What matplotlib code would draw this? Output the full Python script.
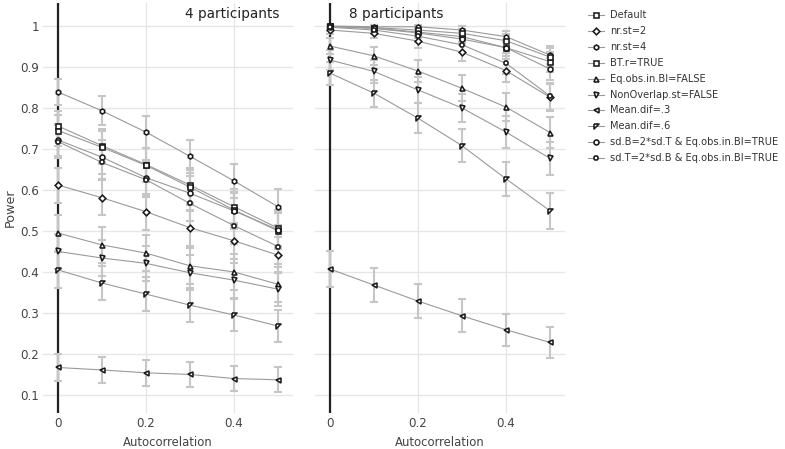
import numpy as np
import matplotlib.pyplot as plt
from matplotlib.lines import Line2D

plt.rcParams['font.family'] = ['DejaVu Sans']

# ---------------- data ----------------
autocorr = [0.0, 0.1, 0.2, 0.3, 0.4, 0.5]
labels = ["Default", "nr.st=2", "nr.st=4", "BT.r=TRUE", "Eq.obs.in.BI=FALSE",
          "NonOverlap.st=FALSE", "Mean.dif=.3", "Mean.dif=.6",
          "sd.B=2*sd.T & Eq.obs.in.BI=TRUE", "sd.T=2*sd.B & Eq.obs.in.BI=TRUE"]
y_ticks = [0.1, 0.2, 0.3, 0.4, 0.5, 0.6, 0.7, 0.8, 0.9, 1.0]
y_tick_labels = ["0.1", "0.2", "0.3", "0.4", "0.5", "0.6", "0.7", "0.8", "0.9", "1"]

# 4 participants
power_4 = {
    "Default":             [0.756, 0.708, 0.662, 0.612, 0.559, 0.507],
    "nr.st=2":             [0.612, 0.581, 0.547, 0.508, 0.476, 0.441],
    "nr.st=4":             [0.839, 0.793, 0.741, 0.682, 0.622, 0.559],
    "BT.r=TRUE":           [0.745, 0.704, 0.660, 0.607, 0.551, 0.500],
    "Eq.obs.in.BI=FALSE":  [0.495, 0.466, 0.446, 0.415, 0.400, 0.370],
    "NonOverlap.st=FALSE": [0.450, 0.434, 0.421, 0.398, 0.380, 0.358],
    "Mean.dif=.3":         [0.167, 0.161, 0.154, 0.150, 0.140, 0.137],
    "Mean.dif=.6":         [0.405, 0.373, 0.346, 0.319, 0.295, 0.268],
    "sd.B=2*sd.T & Eq.obs.in.BI=TRUE": [0.722, 0.680, 0.630, 0.592, 0.549, 0.503],
    "sd.T=2*sd.B & Eq.obs.in.BI=TRUE": [0.718, 0.667, 0.625, 0.567, 0.513, 0.462],
}

# 8 participants
power_8 = {
    "Default":             [0.999, 0.995, 0.985, 0.974, 0.947, 0.913],
    "nr.st=2":             [0.990, 0.982, 0.963, 0.936, 0.891, 0.826],
    "nr.st=4":             [1.000, 0.998, 0.998, 0.990, 0.974, 0.929],
    "BT.r=TRUE":           [0.999, 0.996, 0.990, 0.982, 0.964, 0.924],
    "Eq.obs.in.BI=FALSE":  [0.951, 0.927, 0.890, 0.848, 0.802, 0.740],
    "NonOverlap.st=FALSE": [0.917, 0.889, 0.844, 0.800, 0.741, 0.677],
    "Mean.dif=.3":         [0.407, 0.368, 0.329, 0.293, 0.259, 0.228],
    "Mean.dif=.6":         [0.885, 0.836, 0.775, 0.708, 0.627, 0.549],
    "sd.B=2*sd.T & Eq.obs.in.BI=TRUE": [0.998, 0.994, 0.983, 0.968, 0.947, 0.895],
    "sd.T=2*sd.B & Eq.obs.in.BI=TRUE": [0.997, 0.990, 0.975, 0.954, 0.909, 0.829],
}

# number of simulated data sets behind each power estimate (95% binomial CI)
N_SIM = 500

# ---------------- style ----------------
tri_nw = [(-1, 1), (1, 1), (-1, -1), (-1, 1)]
markers = {
    "Default": "s", "nr.st=2": "D", "nr.st=4": "h", "BT.r=TRUE": "s",
    "Eq.obs.in.BI=FALSE": "^", "NonOverlap.st=FALSE": "v",
    "Mean.dif=.3": "<", "Mean.dif=.6": tri_nw,
    "sd.B=2*sd.T & Eq.obs.in.BI=TRUE": "o", "sd.T=2*sd.B & Eq.obs.in.BI=TRUE": "8",
}
msize = {"nr.st=2": 3.4, "Default": 3.6, "BT.r=TRUE": 3.6}

LINE_C = "#9a9a9a"
ERR_C = "#c6c6c6"
TXT_C = "#444444"
GRID_C = "#e6e6e6"
MK_EDGE = "#1a1a1a"

W, H = 785, 449
fig = plt.figure(figsize=(W / 100, H / 100), dpi=100)


def px_axes(x0, x1, y0, y1):
    return fig.add_axes([x0 / W, 1 - y1 / H, (x1 - x0) / W, (y1 - y0) / H])


ax_l = px_axes(43, 293, 3, 413)
ax_r = px_axes(315, 565, 3, 413)

for ax, data, title, tx in [(ax_l, power_4, "4 participants", 0.395),
                            (ax_r, power_8, "8 participants", 0.15)]:
    ax.set_xlim(-0.034, 0.534)
    ax.set_ylim(0.056, 1.056)
    for s in ax.spines.values():
        s.set_visible(False)
    ax.set_xticks([0, 0.2, 0.4])
    ax.set_xticklabels(["0", "0.2", "0.4"])
    ax.set_yticks(y_ticks)
    ax.set_yticklabels(y_tick_labels)
    ax.grid(True, color=GRID_C, linewidth=1, zorder=0)
    ax.set_axisbelow(True)
    ax.tick_params(length=0, colors=TXT_C, labelsize=8.6, pad=3)
    ax.axvline(0, color="#222222", linewidth=1.6, zorder=1)
    ax.set_xlabel("Autocorrelation", fontsize=8.4, color=TXT_C, labelpad=4)

    for lab in labels:
        p = np.array(data[lab])
        err = 1.96 * np.sqrt(p * (1 - p) / N_SIM)
        ax.errorbar(autocorr, p, yerr=err, fmt="none", ecolor=ERR_C,
                    elinewidth=1.5, capsize=3.2, capthick=1.5, zorder=2)
    for lab in labels:
        ax.plot(autocorr, data[lab], color=LINE_C, linewidth=0.8, zorder=3)
        ax.plot(autocorr, data[lab], linestyle="none", marker=markers[lab],
                markersize=msize.get(lab, 3.6), markerfacecolor="white",
                markeredgecolor=MK_EDGE, markeredgewidth=1.15, zorder=4)
    ax.text(tx, 1.03, title, ha="center", va="center", fontsize=9.8, color="#222222")

ax_r.tick_params(labelleft=False)
ax_l.set_ylabel("Power", fontsize=9.2, color=TXT_C)
ax_l.yaxis.set_label_coords(-0.104, 0.5)

# legend drawn by hand at the right
for i, lab in enumerate(labels):
    y = 1 - (15 + i * 15.9) / H
    fig.add_artist(Line2D([588 / W, 604 / W], [y, y], color=LINE_C, linewidth=0.8))
    fig.add_artist(Line2D([596 / W], [y], linestyle="none", marker=markers[lab],
                          markersize=msize.get(lab, 3.6), markerfacecolor="white",
                          markeredgecolor=MK_EDGE, markeredgewidth=1.15))
    fig.text(610 / W, y, lab, ha="left", va="center", fontsize=7.1, color="#333333")

fig.savefig("out.png", dpi=100)
